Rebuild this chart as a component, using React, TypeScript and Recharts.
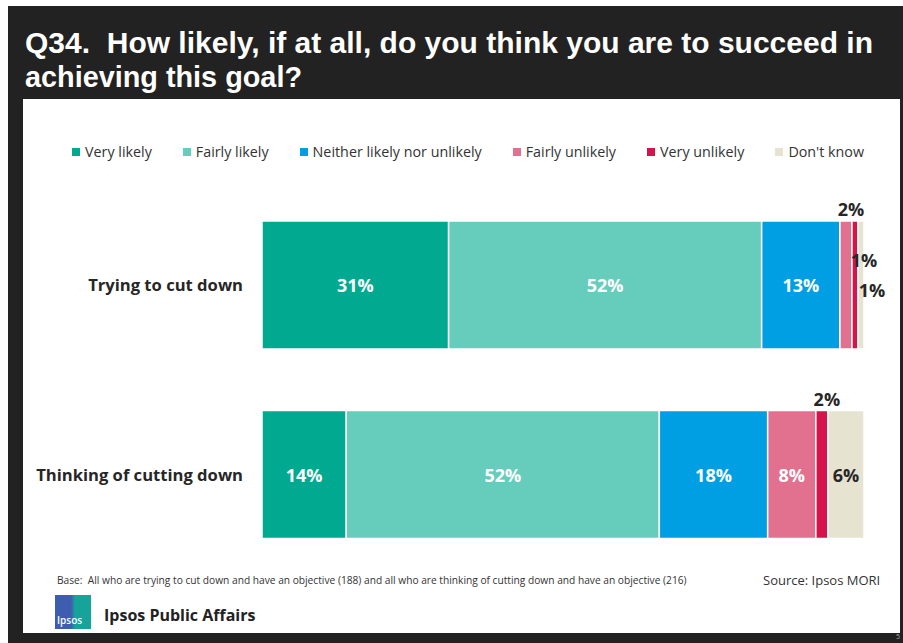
import React from 'react';
import { BarChart, Bar, XAxis, YAxis, LabelList } from 'recharts';

const categories = ['Trying to cut down', 'Thinking of cutting down'];
const seriesKeys = ['veryLikely', 'fairlyLikely', 'neither', 'fairlyUnlikely', 'veryUnlikely', 'dontKnow'];
const seriesNames = [
  'Very likely',
  'Fairly likely',
  'Neither likely nor unlikely',
  'Fairly unlikely',
  'Very unlikely',
  "Don't know",
];
const seriesColors = ['#00A98F', '#66CCBB', '#009FE3', '#E1718F', '#D4144B', '#E6E3D1'];

const veryLikely = [31, 14];
const fairlyLikely = [52, 52];
const neither = [13, 18];
const fairlyUnlikely = [2, 8];
const veryUnlikely = [1, 2];
const dontKnow = [1, 6];

const seriesValues = [veryLikely, fairlyLikely, neither, fairlyUnlikely, veryUnlikely, dontKnow];

const data = categories.map((name, i) => {
  const row: Record<string, string | number> = { name };
  seriesKeys.forEach((k, j) => {
    row[k] = seriesValues[j][i];
  });
  return row;
});

const FONT = '"Open Sans", "Noto Sans", sans-serif';
const TITLE_FONT = '"Liberation Sans", Arial, sans-serif';
const DARK = '#262626';

// small values sit outside the bar, the rest are centred inside
const makeLabel = (key: string) => (props: any) => {
  const { x, y, width, height, value, index } = props;
  const cx = x + width / 2;
  const cy = y + height / 2;
  let tx = cx;
  let ty = cy;
  let fill = key === 'dontKnow' ? DARK : '#fff';
  if (value < 5) {
    fill = DARK;
    if (key === 'fairlyUnlikely' || (key === 'veryUnlikely' && fairlyUnlikely[index] >= 5)) {
      tx = cx + 5;
      ty = y - 12;
    } else if (key === 'veryUnlikely') {
      tx = cx + 9;
      ty = y + 39;
    } else {
      tx = cx + 11;
      ty = y + 69;
    }
  }
  return (
    <text
      x={tx}
      y={ty}
      textAnchor="middle"
      dominantBaseline="central"
      fill={fill}
      fontFamily={FONT}
      fontWeight={700}
      fontSize={18}
    >
      {value}%
    </text>
  );
};

const CategoryTick = (props: any) => {
  const { x, y, payload } = props;
  return (
    <text
      x={x}
      y={y}
      textAnchor="end"
      dominantBaseline="central"
      fill={DARK}
      fontFamily={FONT}
      fontWeight={700}
      fontSize={16.6}
    >
      {payload.value}
    </text>
  );
};

export default function App() {
  return (
    <div
      style={{
        position: 'fixed',
        left: 0,
        top: 0,
        width: 903,
        height: 643,
        background: '#fff',
        fontFamily: FONT,
        overflow: 'hidden',
      }}
    >
      {/* dark slide frame */}
      <div style={{ position: 'absolute', left: 8, top: 6, right: 0, bottom: 0, background: '#222' }} />
      {/* white content panel */}
      <div style={{ position: 'absolute', left: 23, top: 99, width: 877, height: 534, background: '#fff' }} />

      <svg width={903} height={100} style={{ position: 'absolute', left: 0, top: 0 }}>
        <text fill="#fff" fontFamily={TITLE_FONT} fontWeight={700} fontSize={29} xmlSpace="preserve" style={{ whiteSpace: 'pre' }}>
          <tspan x={25} y={53} textLength={848} lengthAdjust="spacingAndGlyphs">
            {'Q34.  How likely, if at all, do you think you are to succeed in'}
          </tspan>
          <tspan x={25} y={87} textLength={277} lengthAdjust="spacingAndGlyphs">
            {'achieving this goal?'}
          </tspan>
        </text>
      </svg>

      <div
        style={{
          position: 'absolute',
          left: 72,
          top: 142,
          display: 'flex',
          alignItems: 'center',
          gap: 31,
          fontSize: 14.3,
          color: '#333',
          whiteSpace: 'nowrap',
        }}
      >
        {seriesNames.map((n, i) => (
          <div key={n} style={{ display: 'flex', alignItems: 'center' }}>
            <span style={{ width: 8, height: 8, background: seriesColors[i], marginRight: 5, display: 'inline-block' }} />
            <span>{n}</span>
          </div>
        ))}
      </div>

      <div style={{ position: 'absolute', left: 0, top: 0 }}>
        <BarChart
          width={903}
          height={643}
          data={data}
          layout="vertical"
          margin={{ top: 190, right: 39, bottom: 74, left: 22 }}
          barSize={128}
        >
          <XAxis type="number" domain={[0, 100]} hide />
          <YAxis
            type="category"
            dataKey="name"
            width={240}
            axisLine={false}
            tickLine={false}
            tickSize={0}
            tickMargin={19}
            tick={<CategoryTick />}
          />
          {seriesKeys.map((k, i) => (
            <Bar
              key={k}
              dataKey={k}
              name={seriesNames[i]}
              stackId="a"
              fill={seriesColors[i]}
              stroke="#fff"
              strokeWidth={1.5}
              isAnimationActive={false}
            >
              <LabelList dataKey={k} content={makeLabel(k)} />
            </Bar>
          ))}
        </BarChart>
      </div>

      <div style={{ position: 'absolute', left: 57, top: 573, fontSize: 10.2, color: '#333', whiteSpace: 'nowrap' }}>
        Base:&nbsp; All who are trying to cut down and have an objective (188) and all who are thinking of cutting down and have an objective (216)
      </div>
      <div style={{ position: 'absolute', left: 763, top: 571, fontSize: 13, color: '#333', whiteSpace: 'nowrap' }}>
        Source: Ipsos MORI
      </div>

      <div
        style={{
          position: 'absolute',
          left: 55,
          top: 595,
          width: 36,
          height: 34,
          background: 'linear-gradient(90deg, #3E5DB0 0%, #3E5DB0 45%, #16A39A 55%, #16A39A 100%)',
        }}
      >
        <span style={{ position: 'absolute', left: 2, bottom: 2, color: '#fff', fontSize: 10, fontWeight: 600 }}>Ipsos</span>
      </div>
      <div style={{ position: 'absolute', left: 104, top: 604, fontSize: 16, fontWeight: 700, color: '#222', whiteSpace: 'nowrap' }}>
        Ipsos Public Affairs
      </div>
      <div style={{ position: 'absolute', left: 896, top: 632, fontSize: 7, color: '#aaa' }}>5</div>
    </div>
  );
}
